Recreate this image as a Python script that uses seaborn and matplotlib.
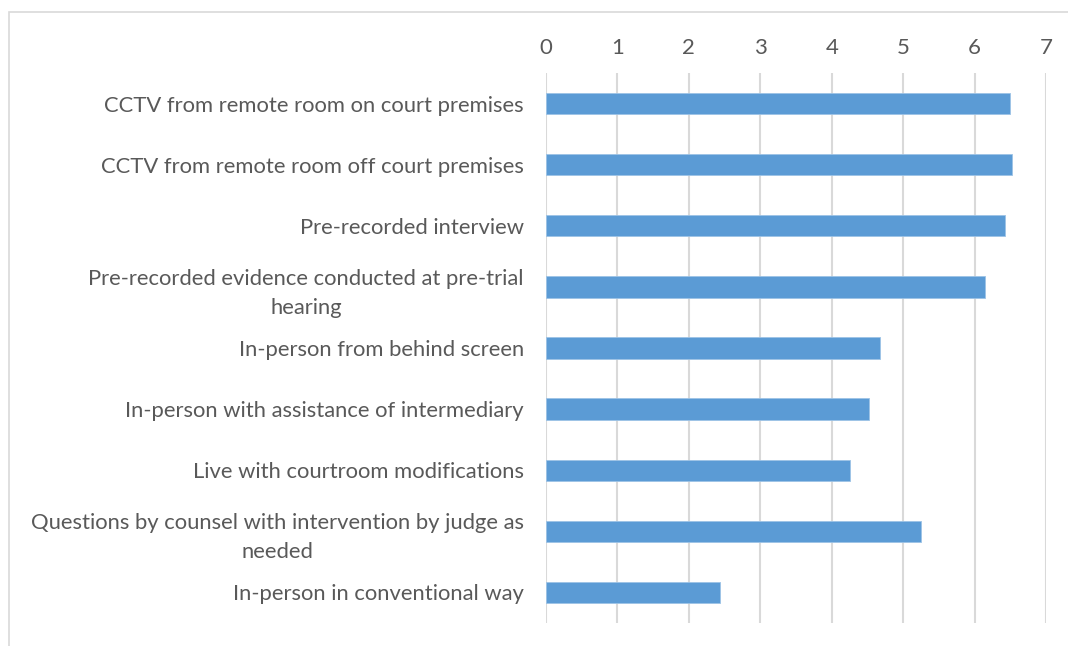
import matplotlib
matplotlib.use("Agg")
import matplotlib.pyplot as plt
import seaborn as sns
import pandas as pd
from matplotlib.patches import Rectangle

# Data
categories = [
    "CCTV from remote room on court premises",
    "CCTV from remote room off court premises",
    "Pre-recorded interview",
    "Pre-recorded evidence conducted at pre-trial\nhearing",
    "In-person from behind screen",
    "In-person with assistance of intermediary",
    "Live with courtroom modifications",
    "Questions by counsel with intervention by judge as\nneeded",
    "In-person in conventional way",
]
scores = [6.49, 6.53, 6.43, 6.14, 4.67, 4.52, 4.25, 5.25, 2.43]
x_ticks = [0, 1, 2, 3, 4, 5, 6, 7]

df = pd.DataFrame({"Method": categories, "Score": scores})

sns.set_style("white")
plt.rcParams["font.family"] = ["Lato", "DejaVu Sans"]

fig = plt.figure(figsize=(10.68, 6.46), dpi=100)
ax = fig.add_axes([546 / 1068, 1 - 623 / 646, 500 / 1068, 550 / 646])

sns.barplot(data=df, x="Score", y="Method", orient="h", color="#5b9bd5",
            width=0.35, saturation=1, edgecolor="#9dc3e6", linewidth=0.6, ax=ax)

# Axis styling
ax.set_xlim(0, 7)
ax.set_xticks(x_ticks)
ax.xaxis.tick_top()
ax.grid(axis="x", color="#d9d9d9", linewidth=1.5)
ax.set_axisbelow(True)
for s in ax.spines.values():
    s.set_visible(False)
ax.tick_params(axis="x", length=0, pad=11, labelsize=16, labelcolor="#595959")
ax.tick_params(axis="y", length=0, pad=16, labelsize=15.8, labelcolor="#595959")
for lab in ax.get_yticklabels():
    lab.set_multialignment("center")
    lab.set_linespacing(1.55)
ax.set_xlabel("")
ax.set_ylabel("")

# Light chart-area border
fig.patches.append(Rectangle((9 / 1068, -0.1), 1.2, 1.1 - 12 / 646,
                             transform=fig.transFigure, fill=False,
                             edgecolor="#d9d9d9", linewidth=1.2))

plt.savefig("out.png", dpi=100)
